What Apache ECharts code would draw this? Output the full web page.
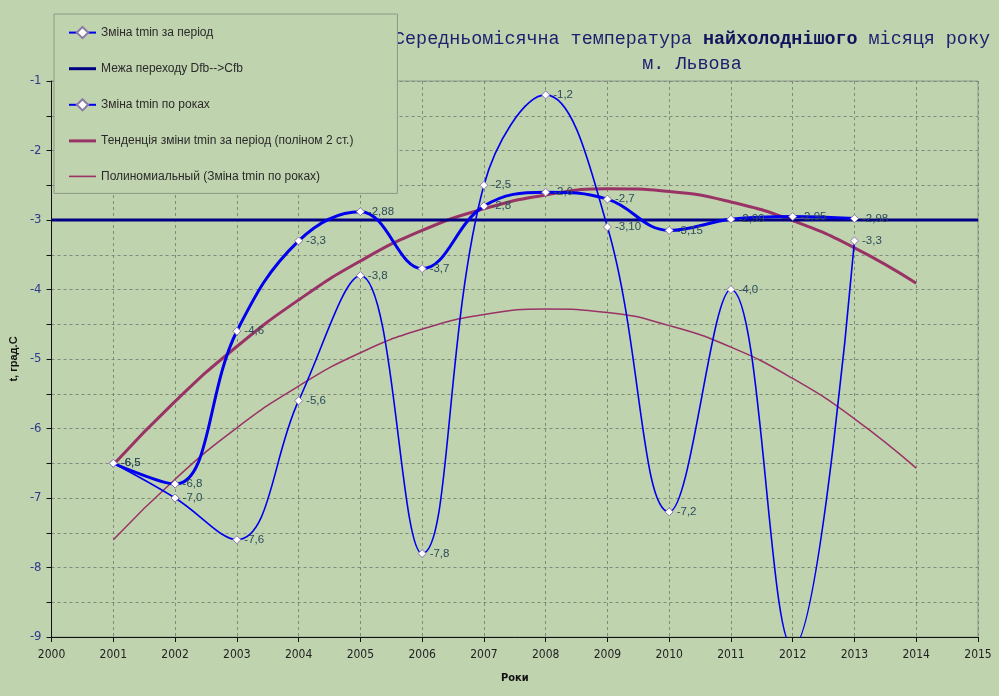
<!DOCTYPE html>
<html>
<head>
<meta charset="utf-8">
<script src="https://cdn.jsdelivr.net/npm/echarts@6/dist/echarts.min.js"></script>
<style>
  html, body { margin: 0; padding: 0; background: #C0D3AF; }
  #chart { width: 999px; height: 696px; }
</style>
</head>
<body>
<div id="chart"></div>
<script>
// роки
var years = [2001, 2002, 2003, 2004, 2005, 2006, 2007, 2008, 2009, 2010, 2011, 2012, 2013];
var trendYears = [2001, 2002, 2003, 2004, 2005, 2006, 2007, 2008, 2009, 2010, 2011, 2012, 2013, 2014];

// Зміна tmin за період
var periodVals = [-6.5, -6.8, -4.6, -3.3, -2.88, -3.7, -2.8, -2.6, -2.7, -3.15, -2.99, -2.95, -2.98];
var periodLabels = ['-6,5', '-6,8', '-4,6', '-3,3', '-2,88', '-3,7', '-2,8', '-2,6', '-2,7', '-3,15', '-2,99', '-2,95', '-2,98'];

// Зміна tmin по роках
var yearVals = [-6.5, -7.0, -7.6, -5.6, -3.8, -7.8, -2.5, -1.2, -3.1, -7.2, -4.0, -9.15, -3.3];
var yearLabels = ['-6,5', '-7,0', '-7,6', '-5,6', '-3,8', '-7,8', '-2,5', '-1,2', '-3,10', '-7,2', '-4,0', '', '-3,3'];

// межа Dfb-->Cfb
var borderYears = [2000, 2015];
var borderVals = [-3, -3];

// тренди
var trendPeriod = [-6.52, -5.61, -4.82, -4.15, -3.59, -3.15, -2.84, -2.64, -2.55, -2.59, -2.74, -3.01, -3.40, -3.91];
var trendYearly = [-7.60, -6.73, -5.99, -5.39, -4.91, -4.57, -4.36, -4.28, -4.33, -4.52, -4.83, -5.28, -5.86, -6.57];

function pairs(xs, ys) {
    var out = [];
    for (var i = 0; i < xs.length; i++) out.push([xs[i], ys[i]]);
    return out;
}

var narrow = "'Liberation Sans Narrow', 'DejaVu Sans Condensed', sans-serif";
var lblStyle = {
    show: true, position: 'right', distance: 3,
    color: '#2B4B58', fontSize: 11.5, fontFamily: 'Liberation Sans, Arial, sans-serif'
};
var marker = { color: '#ffffff', borderColor: '#8a7aa6', borderWidth: 1 };
var thickIcon = 'path://M0,0H27V3H0Z';
var thinIcon = 'path://M0,0H27V1.6H0Z';

var myChart = echarts.init(document.getElementById('chart'));
var option = {
    backgroundColor: '#C0D3AF',
    animation: false,
    title: {
        text: '{a|Середньомісячна температура }{b|найхолоднішого}{a| місяця року}\n{a|м. Львова}',
        left: 687, top: 22, textAlign: 'center',
        textStyle: {
            fontWeight: 'normal',
            rich: {
                a: { fontFamily: 'Liberation Mono, monospace', fontSize: 18.4, fontWeight: 'normal', color: '#1a1f6e', lineHeight: 25 },
                b: { fontFamily: 'Liberation Mono, monospace', fontSize: 18.4, fontWeight: 'bold', color: '#10145e', lineHeight: 25 }
            }
        },
        z: 1
    },
    legend: {
        orient: 'vertical',
        left: 54, top: 14,
        padding: [12, 44, 11, 14],
        itemGap: 23.5,
        itemWidth: 27, itemHeight: 14,
        backgroundColor: '#C0D3AF',
        borderColor: '#8c9a86', borderWidth: 1,
        textStyle: { fontFamily: 'Liberation Sans, Arial, sans-serif', fontSize: 12, color: '#2a2a2a' },
        data: [
            { name: 'Зміна tmin за період' },
            { name: 'Межа переходу Dfb-->Cfb', icon: thickIcon },
            { name: 'Зміна tmin по роках' },
            { name: 'Тенденція зміни tmin за період (поліном 2 ст.)', icon: thickIcon },
            { name: 'Полиномиальный (Зміна tmin по роках)', icon: thinIcon }
        ],
        z: 10
    },
    grid: {
        left: 49, right: 21, top: 81, bottom: 59,
        show: true, borderColor: '#8c9a86', borderWidth: 1
    },
    xAxis: {
        type: 'value', min: 2000, max: 2015, interval: 1,
        name: 'Роки', nameLocation: 'middle', nameGap: 36,
        nameTextStyle: { fontWeight: 'bold', fontSize: 11, color: '#111', fontFamily: narrow },
        axisLine: { lineStyle: { color: '#111', width: 1 } },
        axisTick: { length: 5, lineStyle: { color: '#111' } },
        axisLabel: {
            color: '#222', fontSize: 12, fontFamily: narrow, margin: 12,
            formatter: function (v) { return String(v); }
        },
        splitLine: { show: true, lineStyle: { color: '#7f8a7a', type: [3, 3], width: 1 } }
    },
    yAxis: {
        type: 'value', min: -9, max: -1, interval: 0.5,
        name: 't, град.С', nameLocation: 'middle', nameGap: 32, nameRotate: 90,
        nameTextStyle: { fontWeight: 'bold', fontSize: 11, color: '#111', fontFamily: 'Liberation Sans, Arial, sans-serif' },
        axisLine: { show: true, lineStyle: { color: '#111', width: 1 } },
        axisTick: { show: true, length: 5, lineStyle: { color: '#111' } },
        axisLabel: {
            color: '#2E3A8C', fontSize: 13, fontFamily: narrow, margin: 10,
            formatter: function (v) { return Number.isInteger(v) ? String(v) : ''; }
        },
        splitLine: { show: true, lineStyle: { color: '#7f8a7a', type: [3, 3], width: 1 } }
    },
    series: [
        {
            name: 'Тенденція зміни tmin за період (поліном 2 ст.)',
            type: 'line', data: pairs(trendYears, trendPeriod), smooth: true,
            symbol: 'none', lineStyle: { color: '#993366', width: 3 }, itemStyle: { color: '#993366' }, z: 2
        },
        {
            name: 'Полиномиальный (Зміна tmin по роках)',
            type: 'line', data: pairs(trendYears, trendYearly), smooth: true,
            symbol: 'none', lineStyle: { color: '#993366', width: 1.5 }, itemStyle: { color: '#993366' }, z: 2
        },
        {
            name: 'Межа переходу Dfb-->Cfb',
            type: 'line', data: pairs(borderYears, borderVals),
            symbol: 'none', lineStyle: { color: '#000080', width: 3 }, itemStyle: { color: '#000080' }, z: 3
        },
        {
            name: 'Зміна tmin за період',
            type: 'line', data: pairs(years, periodVals), smooth: 0.4,
            symbol: 'diamond', symbolSize: 8,
            lineStyle: { color: '#0000EE', width: 3 }, itemStyle: marker,
            label: Object.assign({}, lblStyle, { formatter: function (p) { return periodLabels[p.dataIndex]; } }),
            z: 4
        },
        {
            name: 'Зміна tmin по роках',
            type: 'line', data: pairs(years, yearVals), smooth: 0.4,
            symbol: 'diamond', symbolSize: 8,
            lineStyle: { color: '#0000EE', width: 1.6 }, itemStyle: marker,
            label: Object.assign({}, lblStyle, { formatter: function (p) { return yearLabels[p.dataIndex]; } }),
            z: 5
        }
    ]
};
myChart.setOption(option);
</script>
</body>
</html>
